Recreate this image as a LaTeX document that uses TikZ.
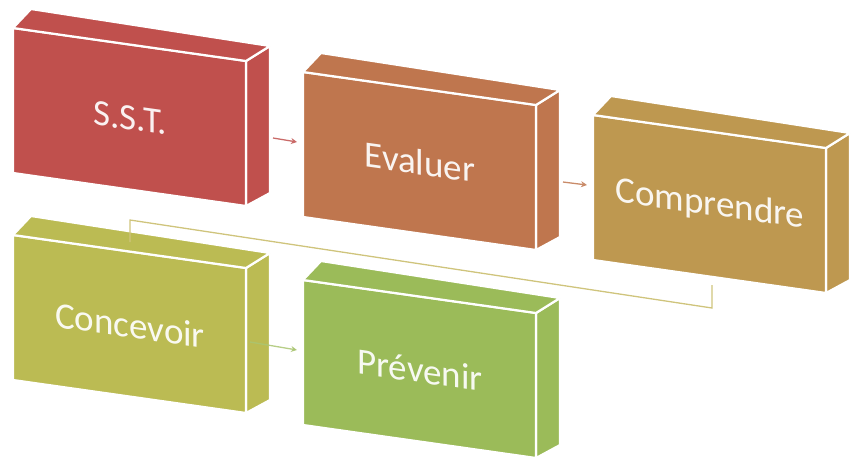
\documentclass[tikz,border=0pt]{standalone}
\usepackage{fontspec}
\setmainfont{Carlito}
\usetikzlibrary{arrows.meta}
\definecolor{cSST}{HTML}{C0504D}
\definecolor{cEVA}{HTML}{BF764E}
\definecolor{cCOM}{HTML}{BE9850}
\definecolor{cCON}{HTML}{BBBB53}
\definecolor{cPRE}{HTML}{9BBB59}
\definecolor{cLnk}{HTML}{CFC47C}
\tikzset{
  face/.style={draw=white, line width=2.2pt, line join=round},
  boxlabel/.style={text=white, text opacity=0.92, font=\fontsize{37}{40}\selectfont, yslant=-0.14, inner sep=0pt},
  flowarrow/.style={line width=1.3pt, -{Stealth[length=6pt,width=6pt]}},
}
% #1 name, #2 x, #3 y (front top-left, pixels), #4 colour, #5 text
\newcommand{\threedbox}[5]{%
  \fill[#4, face] (#2+233,#3+33) -- ++(24,-15) -- ++(0,147) -- ++(-24,13) -- cycle;
  \fill[#4, face] (#2,#3) -- ++(233,33) -- ++(0,145) -- ++(-233,-33) -- cycle;
  \fill[#4, face] (#2,#3) -- ++(18,-19) -- ++(239,37) -- ++(-24,15) -- cycle;
  \node[boxlabel] (#1) at (#2+117,#3+90) {#5};
  \coordinate (#1-out) at (#2+260,#3+110);
  \coordinate (#1-in) at (#2-6,#3+70);
  \coordinate (#1-bot) at (#2+119,#3+170);
  \coordinate (#1-top) at (#2+117,#3+7);
}
\begin{document}
\begin{tikzpicture}[x=1pt,y=-1pt]
\useasboundingbox (0,0) rectangle (852,459);
\threedbox{sst}{13}{28}{cSST}{S.S.T.}
\threedbox{eva}{303}{72}{cEVA}{Evaluer}
\threedbox{com}{593}{115}{cCOM}{Comprendre}
\threedbox{con}{13}{235}{cCON}{Concevoir}
\threedbox{pre}{303}{280}{cPRE}{Prévenir}
\coordinate (conA) at (250,342);
\coordinate (k1) at (712,308);
\coordinate (k2) at (130,220);
\draw[flowarrow, draw=cSST!85!white] (sst-out) -- (eva-in);
\draw[flowarrow, draw=cEVA!85!white] (eva-out) -- (com-in);
\draw[flowarrow, draw=cPRE!85!white, draw opacity=0.85] (conA) -- (pre-in);
\draw[cLnk, line width=1.3pt] (com-bot) -- (k1) -- (k2) -- (con-top);
\end{tikzpicture}
\end{document}
